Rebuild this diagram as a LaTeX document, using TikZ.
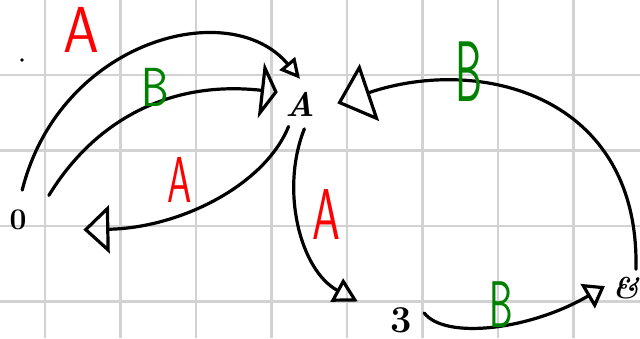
\documentclass[tikz,border=0pt]{standalone}
\usepackage{tikz}
\usepackage{graphicx}
\usetikzlibrary{arrows.meta}
\definecolor{penred}{RGB}{255,0,0}
\definecolor{pengreen}{RGB}{0,128,0}
\tikzstyle{gridline}=[draw=gray!35,line width=2.2pt]
\tikzstyle{state}=[circle,inner sep=0pt]
\tikzstyle{stroke}=[line width=3.2pt,line cap=round,line join=round]
\tikzstyle{lbla}=[inner sep=0pt,text=penred]
\tikzstyle{lblb}=[inner sep=0pt,text=pengreen]
\begin{document}
\begin{tikzpicture}[x=1pt,y=-1pt]
\useasboundingbox (0,0) rectangle (640,338);
\fill [white] (0,0) rectangle (640,338);
% grid paper
\foreach \gx in {45,120.5,196,271.5,347,422.5,498,573.5}
  \draw [gridline] (\gx,0) -- (\gx,338);
\foreach \gy in {75,150.5,226,301.5}
  \draw [gridline] (0,\gy) -- (640,\gy);
\fill (22,60) circle (1.8);
% states
\node (s0) [state,minimum size=60pt,font=\fontsize{30}{30}\selectfont\bfseries] at (18,220) {0};
\node (s1) [state,minimum size=50pt,font=\fontsize{34}{34}\selectfont\bfseries\itshape] at (300,104) {A};
\node (s2) [state,minimum size=48pt,font=\fontsize{38}{38}\selectfont\bfseries] at (401,320) {3};
\node (s3) [state,minimum size=42pt,font=\fontsize{30}{30}\selectfont\bfseries\itshape] at (626,288) {\&};
% transitions
\draw [stroke,-{Triangle[open,length=20pt,width=20pt]}] (s0.82) .. controls (60,40) and (230,-5) .. (s1.90);
\draw [stroke,shorten <=10pt,-{Triangle[open,length=17pt,width=56pt]}] (s0.32) .. controls (95,120) and (170,80) .. (s1.152);
\draw [stroke,shorten >=37pt,-{Triangle[open,length=26pt,width=48pt]}] (s1.243) .. controls (265,185) and (180,228) .. (s0.340);
\draw [stroke,shorten >=23pt,-{Triangle[open,length=24pt,width=26pt]}] (s1.280) .. controls (280,190) and (300,270) .. (s2.162);
\draw [stroke,-{Triangle[open,length=20pt,width=28pt]}] (s2.17) .. controls (445,340) and (530,330) .. (s3.175);
\draw [stroke,shorten >=13pt,-{Triangle[open,length=34pt,width=60pt]}] (s3.62) .. controls (640,95) and (480,55) .. (s1.352);
% labels
\node (la1) [lbla,font=\sffamily\fontsize{65}{65}\selectfont] at (81,30) {\scalebox{0.88}[1]{A}};
\node (lb1) [lblb,font=\sffamily\fontsize{55}{55}\selectfont] at (155,87) {\scalebox{0.8}[1]{B}};
\node (la2) [lbla,font=\sffamily\fontsize{65}{65}\selectfont] at (180,180) {\scalebox{0.6}[1]{A}};
\node (la3) [lbla,font=\sffamily\fontsize{72}{72}\selectfont] at (326,215) {\scalebox{0.62}[1]{A}};
\node (lb2) [lblb,font=\sffamily\fontsize{86}{86}\selectfont] at (469,72) {\scalebox{0.5}[1]{B}};
\node (lb3) [lblb,font=\sffamily\fontsize{66}{66}\selectfont] at (501,305) {\scalebox{0.57}[1]{B}};
\end{tikzpicture}
\end{document}
